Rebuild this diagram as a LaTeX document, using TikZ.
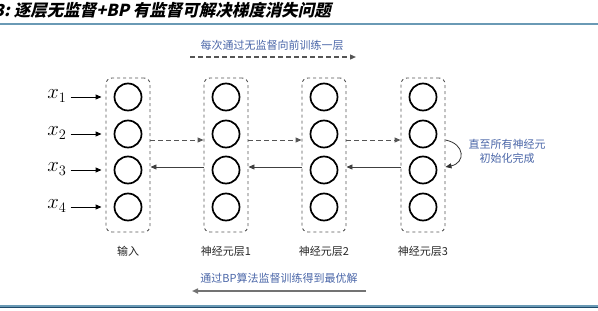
\documentclass[tikz,border=0pt]{standalone}
\usepackage{fontspec}
\usetikzlibrary{arrows.meta}
\newfontfamily\cjk{Noto Sans CJK SC}
\newfontfamily\cjktitle[FakeSlant=0.22]{Noto Sans CJK SC}
\definecolor{lblblue}{HTML}{4A66A8}
\definecolor{rulelight}{HTML}{6A9AB5}
\definecolor{ruledark}{HTML}{1F4A6B}
\definecolor{boxgray}{HTML}{555555}
\tikzset{
  neuron/.style={circle,draw=black,line width=1.7pt,minimum size=27pt,inner sep=0pt},
  layerbox/.style={draw=boxgray,dashed,line width=0.9pt,rounded corners=6pt,minimum width=44pt,minimum height=154pt,inner sep=0pt},
  tip/.style={-{Triangle[length=6pt,width=5pt]}},
  fwd/.style={tip,draw=boxgray,dashed,line width=1pt,dash pattern=on 5pt off 3pt},
  bwd/.style={tip,draw=black!75,line width=0.9pt},
  lbl/.style={font=\cjk\fontsize{11}{13}\selectfont,text=black!85,inner sep=1pt},
  bluelbl/.style={font=\cjk\fontsize{11}{14}\selectfont,text=lblblue,inner sep=1pt,align=center},
  xlbl/.style={font=\fontsize{22}{24}\selectfont,inner sep=1pt}
}
\begin{document}
\begin{tikzpicture}[x=1pt,y=-1pt]
\useasboundingbox (0,0) rectangle (598,311);
% title and rules
\node[anchor=base west,inner sep=0pt,font=\cjktitle\bfseries\fontsize{16.5}{18}\selectfont] (title) at (-6,16) {3:\ 逐层无监督+BP 有监督可解决梯度消失问题};
\draw[rulelight,line width=1.6pt] (0,24) -- (598,24);
\draw[rulelight,line width=1.2pt] (0,306) -- (598,306);
\draw[ruledark,line width=1.4pt] (0,307.6) -- (598,307.6);
% layers
\foreach \i/\x in {1/128,2/226,3/324,4/423}{
  \node[layerbox] (b\i) at (\x,155) {};
  \foreach \j/\y in {1/97,2/134,3/170,4/207}{
    \node[neuron] (c\i\j) at (\x,\y) {};
  }
}
% labels under layers
\node[lbl] (l1) at (128,251) {输入};
\node[lbl] (l2) at (226,251) {神经元层1};
\node[lbl] (l3) at (324,251) {神经元层2};
\node[lbl] (l4) at (423,251) {神经元层3};
% inputs
\foreach \j/\y in {1/97,2/134,3/170,4/207}{
  \node[xlbl] (x\j) at (57,\y-1) {$x_{\j}$};
  \draw[tip,line width=0.9pt] ([xshift=3pt]x\j.east |- 0,\y) -- ([xshift=-4pt]b1.west |- 0,\y);
}
% forward and backward arrows
\coordinate (ya) at (0,140);
\coordinate (yb) at (0,167);
\foreach \a/\b in {1/2,2/3,3/4}{
  \draw[fwd] (b\a.east |- ya) -- (b\b.west |- ya);
  \draw[bwd] (b\b.west |- yb) -- (b\a.east |- yb);
}
% loop arrow at layer 3
\draw[tip,black!80,line width=0.8pt] (b4.east |- ya) .. controls +(20,4) and +(20,-4) .. (b4.east |- yb);
\node[bluelbl] (loop) at (507,151) {直至所有神经元\\初始化完成};
% top label and arrow
\node[bluelbl] (top) at (272,45) {每次通过无监督向前训练一层};
\coordinate (ts) at (190,57);
\coordinate (te) at (356,57);
\draw[fwd,line width=1.2pt] (ts) -- (te);
% bottom label and arrow
\node[bluelbl] (bot) at (279,278) {通过BP算法监督训练得到最优解};
\coordinate (bs) at (366,291);
\coordinate (be) at (192,291);
\draw[tip,draw=black!55,line width=1.6pt] (bs) -- (be);
\end{tikzpicture}
\end{document}
